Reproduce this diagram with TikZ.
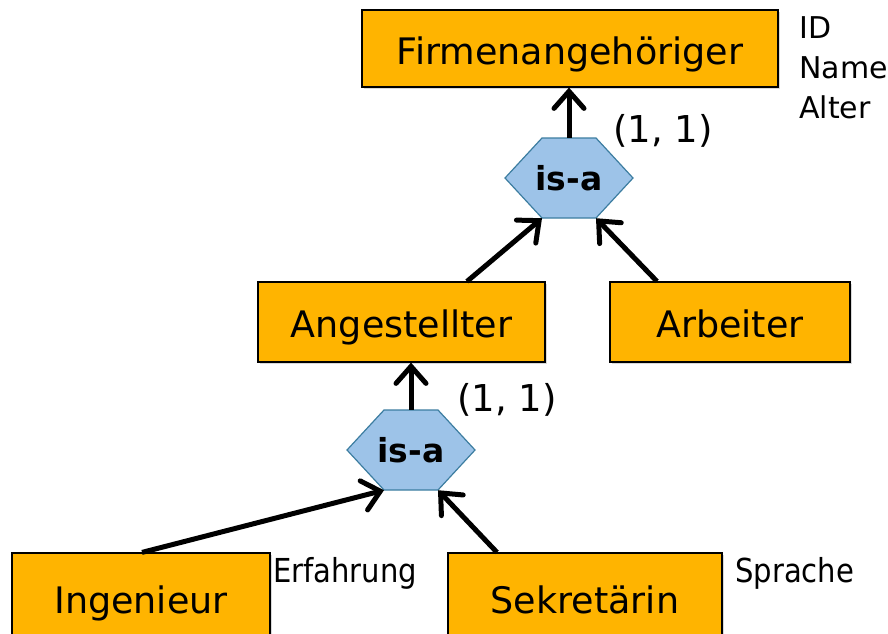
\documentclass[tikz,border=0pt]{standalone}
\usepackage{fontspec}
\setmainfont{DejaVu Sans}
\newfontfamily\narrowsans[FakeStretch=0.88]{DejaVu Sans}
\usepackage{tikz}
\usetikzlibrary{shadows}
\usetikzlibrary{positioning}
\usetikzlibrary{arrows.meta}

\definecolor{entityorange}{RGB}{255,180,0}
\definecolor{isafill}{RGB}{157,195,232}
\definecolor{isaline}{RGB}{60,125,160}

\begin{document}
\begin{tikzpicture}[x=1pt,y=-1pt,>={Straight Barb[length=17pt,width=30pt,line cap=round]},
	entity/.style={rectangle,draw,fill=entityorange,line width=1.2pt,inner sep=0pt,
		font=\fontsize{36.5}{40}\selectfont,text height=31pt,text depth=0pt,
		drop shadow={shadow xshift=2pt,shadow yshift=-2pt,opacity=0.3}},
	isa/.style={inner sep=0pt,minimum width=128pt,minimum height=80pt,
		font=\fontsize{33}{36}\selectfont\bfseries},
	hexa/.style={fill=isafill,draw=isaline,line width=1.2pt},
	link/.style={->,line width=5pt},
	card/.style={font=\fontsize{37}{40}\selectfont,inner sep=0pt},
	attr/.style={font=\fontsize{30}{40}\selectfont,align=left,inner sep=0pt},
	extra/.style={font=\narrowsans\fontsize{33}{36}\selectfont,inner sep=0pt}]

	\useasboundingbox (0,0) rectangle (888,633);

	% hexagons go first, the is-a text sits on them
	\coordinate (h1) at (569,178);
	\coordinate (h2) at (411,450);
	\foreach \c in {h1,h2}
		\draw[hexa] ([shift={(-64,0)}]\c) -- ([shift={(-27,-40)}]\c) -- ([shift={(27,-40)}]\c)
			-- ([shift={(64,0)}]\c) -- ([shift={(27,40)}]\c) -- ([shift={(-27,40)}]\c) -- cycle;

	\node[entity,minimum width=416pt,minimum height=77pt] (firma) at (570,48.5) {Firmenangehöriger};
	\node[isa] (isa1) at (h1) {is-a};
	\node[entity,minimum width=287pt,minimum height=80pt] (angest) at (401.5,322) {Angestellter};
	\node[entity,minimum width=240pt,minimum height=80pt] (arbeiter) at (730,322) {Arbeiter};
	\node[isa] (isa2) at (h2) {is-a};
	\node[entity,minimum width=258pt,minimum height=90pt] (ing) at (141,598) {Ingenieur};
	\node[entity,minimum width=274pt,minimum height=90pt] (sek) at (585,598) {Sekretärin};

	% attributes and cardinalities
	\node[attr,anchor=north west] (firmattr) at (799,16) {ID\\Name\\Alter};
	\node[card] (card1) at (663,131) {(1, 1)};
	\node[card] (card2) at (507,400) {(1, 1)};
	\node[extra,anchor=west] (ingattr) at (273,573) {Erfahrung};
	\node[extra,anchor=west] (sekattr) at (735,573) {Sprache};

	\path[link]
	(isa1.north) edge (isa1.north |- firma.south)
	([xshift=65.5pt]angest.north) edge ([xshift=-27pt]isa1.south)
	([xshift=-73pt]arbeiter.north) edge ([xshift=27pt]isa1.south)
	(isa2.north) edge (isa2.north |- angest.south)
	([xshift=1pt]ing.north) edge ([xshift=-27pt]isa2.south)
	([xshift=-88pt]sek.north) edge ([xshift=27pt]isa2.south);
\end{tikzpicture}
\end{document}
